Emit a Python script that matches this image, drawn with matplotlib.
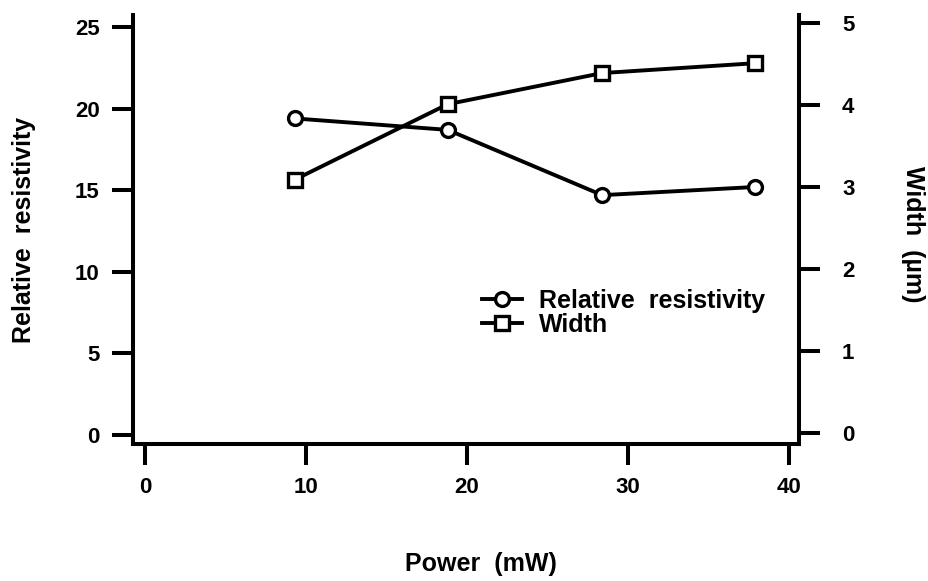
import matplotlib
matplotlib.use("Agg")
import matplotlib.pyplot as plt

# data
power = [9.3, 18.8, 28.4, 37.9]          # mW
rel_resistivity = [19.4, 18.7, 14.7, 15.2]
width_um = [3.09, 4.01, 4.39, 4.51]

x_ticks = [0, 10, 20, 30, 40]
left_ticks = [0, 5, 10, 15, 20, 25]
right_ticks = [0, 1, 2, 3, 4, 5]

plt.rcParams['font.family'] = ['Liberation Sans', 'DejaVu Sans']
plt.rcParams['font.weight'] = 'bold'
FS = 16     # tick labels
LFS = 18    # axis labels / legend
LW = 2.8

fig = plt.figure(figsize=(9.29, 5.81), dpi=100)
ax = fig.add_axes([0.1432, 0.2358, 0.7168, 0.7384])
ax2 = ax.twinx()

l1, = ax.plot(power, rel_resistivity, '-o', color='black', lw=LW,
              markersize=10, markerfacecolor='white', markeredgewidth=2.4,
              label='Relative  resistivity')
l2, = ax2.plot(power, width_um, '-s', color='black', lw=LW,
               markersize=10, markerfacecolor='white', markeredgewidth=2.4,
               label='Width')

ax.set_xlim(-0.75, 40.62)
ax.set_ylim(-0.55, 25.74)
ax2.set_ylim(-0.134, 5.098)

ax.set_xticks(x_ticks)
ax.set_yticks(left_ticks)
ax2.set_yticks(right_ticks)

for a in (ax, ax2):
    a.spines['top'].set_visible(False)
    for s in a.spines.values():
        s.set_linewidth(2.9)
ax.spines['right'].set_visible(False)
ax2.spines['left'].set_visible(False)
ax2.spines['bottom'].set_visible(False)

ax.tick_params(axis='x', direction='out', length=15, width=2.9, pad=9, labelsize=FS)
ax.tick_params(axis='y', direction='out', length=15, width=2.9, pad=9, labelsize=FS)
ax2.tick_params(axis='y', direction='out', length=15, width=2.9, pad=16, labelsize=FS)
for lab in ax.get_xticklabels() + ax.get_yticklabels() + ax2.get_yticklabels():
    lab.set_fontweight('bold')

ax.set_xlabel('Power  (mW)', fontsize=LFS, fontweight='bold')
ax.xaxis.set_label_coords(0.523, -0.252)
ax.set_ylabel('Relative  resistivity', fontsize=LFS, fontweight='bold')
ax.yaxis.set_label_coords(-0.145, 0.5)
ax2.set_ylabel('Width  (\u00b5m)', fontsize=LFS, fontweight='bold', rotation=-90,
               va='center')
ax2.yaxis.set_label_coords(1.171, 0.49)

ax2.legend(handles=[l1, l2], loc='upper left', bbox_to_anchor=(0.505, 0.39),
           frameon=False, handlelength=1.6, handletextpad=0.7,
           labelspacing=0.0, borderpad=0, prop={'weight': 'bold', 'size': LFS})

fig.savefig('out.png', dpi=100)
